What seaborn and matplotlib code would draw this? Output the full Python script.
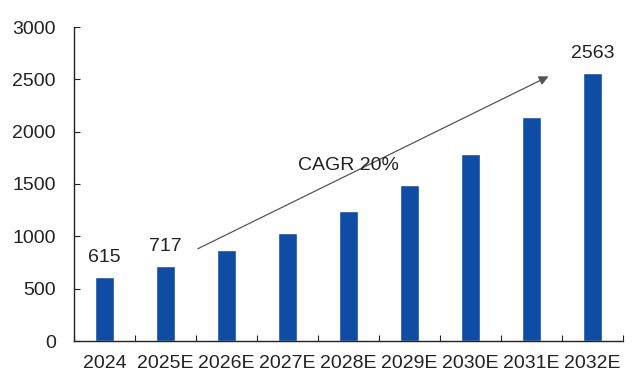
import matplotlib
matplotlib.use("Agg")
import matplotlib.pyplot as plt
import seaborn as sns
import pandas as pd
import numpy as np

years = ["2024", "2025E", "2026E", "2027E", "2028E", "2029E", "2030E", "2031E", "2032E"]
values = [615, 717, 865, 1035, 1240, 1490, 1787, 2143, 2563]
labeled = {"2024": "615", "2025E": "717", "2032E": "2563"}
yticks = [0, 500, 1000, 1500, 2000, 2500, 3000]

sns.set_theme(style="white")
plt.rcParams['font.family'] = ['Liberation Sans', 'DejaVu Sans']

df = pd.DataFrame({"year": years, "value": values})
fig = plt.figure(figsize=(6.4, 3.79), dpi=100)
ax = fig.add_axes([74/640, 1 - 341/379, (623-74)/640, (341-27)/379])
sns.barplot(data=df, x="year", y="value", color="#0F4DA5", saturation=1, width=0.32, ax=ax)

ax.set_xlim(-0.5, len(years) - 0.5)
ax.set_ylim(0, 3000)
ax.set_yticks(yticks)
ax.set_xlabel("")
ax.set_ylabel("")
for s in ["top", "right"]:
    ax.spines[s].set_visible(False)
for s in ["left", "bottom"]:
    ax.spines[s].set_color("#222222")
    ax.spines[s].set_linewidth(1.0)

ax.tick_params(axis="y", direction="in", length=4, width=0.8, color="#222222", labelsize=14, pad=13, labelcolor="#222222", left=True)
ax.tick_params(axis="x", which="major", length=0, labelsize=14, pad=10, labelcolor="#222222")
ax.set_xticks(np.arange(-0.5, len(years), 1.0), minor=True)
ax.tick_params(axis="x", which="minor", direction="in", length=4, width=0.8, color="#222222", bottom=True)

for i, (y, v) in enumerate(zip(years, values)):
    if y in labeled:
        ax.annotate(labeled[y], (i, v), xytext=(0, 8), textcoords="offset points",
                    ha="center", va="bottom", fontsize=14, color="#222222")

ax.annotate("", xy=(7.32, 2540), xytext=(1.49, 870),
            arrowprops=dict(arrowstyle="-|>", color="#555555", lw=0.9, mutation_scale=14))
ax.text(4.0, 1680, "CAGR 20%", ha="center", va="center", fontsize=14, color="#222222")

fig.savefig("out.png", dpi=100, facecolor="white")
